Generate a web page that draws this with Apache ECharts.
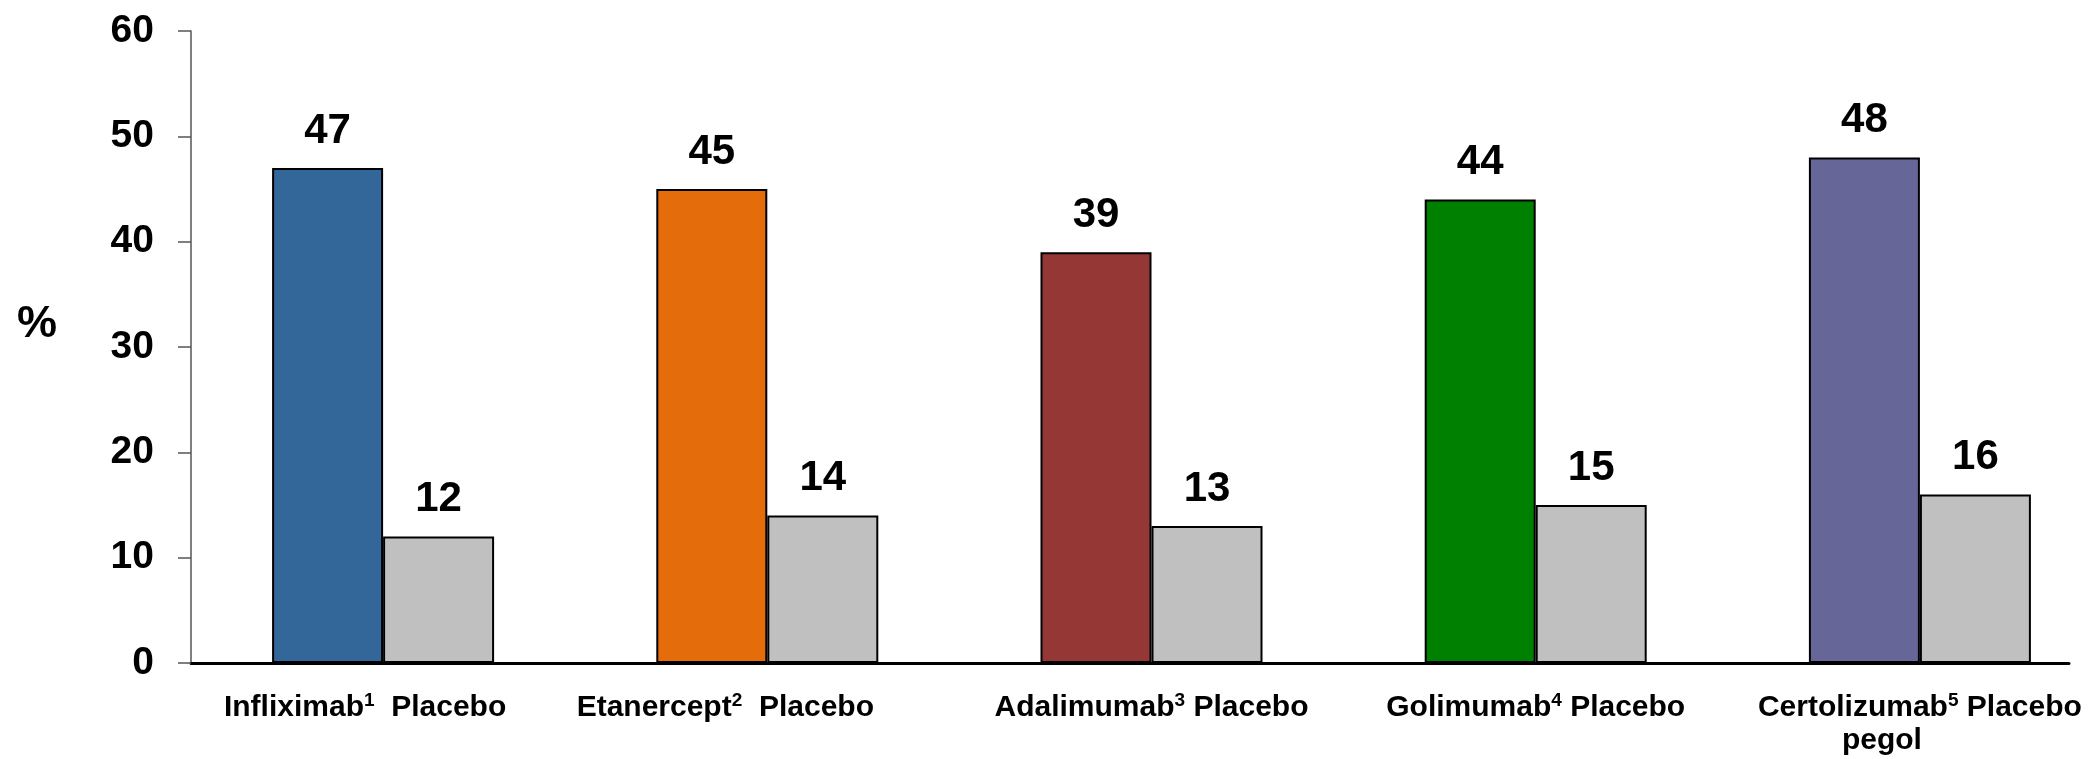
<!DOCTYPE html>
<html>
<head>
<meta charset="utf-8">
<script src="https://cdn.jsdelivr.net/npm/echarts@6/dist/echarts.min.js"></script>
<style>
  html, body { margin: 0; padding: 0; background: #fff; }
  #chart { width: 2090px; height: 759px; }
</style>
</head>
<body>
<div id="chart"></div>
<script>
// data
const drugs = ['Infliximab', 'Etanercept', 'Adalimumab', 'Golimumab', 'Certolizumab'];
const drugRefs = ['1', '2', '3', '4', '5'];
const drugSuffix = ['', '', '', '', 'pegol'];
const drugValues = [47, 45, 39, 44, 48];
const placeboValues = [12, 14, 13, 15, 16];
const drugColors = ['#336699', '#E46C0A', '#953735', '#008000', '#666699'];
const placeboColor = '#C0C0C0';
const yMin = 0, yMax = 60, yStep = 10;

// labels sit a bit left of the group centre for the first two groups
const labelGap = [36, 84, 0, 0, 0];

const FONT = '"Liberation Sans", Arial, sans-serif';

const chart = echarts.init(document.getElementById('chart'));

function catLabel(value, index) {
  const sep = index < 2 ? '  ' : ' ';
  let s = '{n|' + drugs[index] + '}{s|' + drugRefs[index] + '}{n|' + sep + 'Placebo}';
  if (labelGap[index]) s += '{g' + index + '| }';
  if (drugSuffix[index]) s += '\n{n|' + drugSuffix[index] + '}{gp| }';
  return s;
}

const option = {
  animation: false,
  backgroundColor: '#fff',
  title: {
    text: '%',
    left: 12,
    top: 297,
    textStyle: { fontFamily: FONT, fontSize: 45, fontWeight: 'bold', color: '#000' }
  },
  grid: [
    // the last group runs off the right edge in the original, so let it overflow
    { left: 191, right: -22, top: 31, bottom: 96, outerBoundsMode: 'none', containLabel: false },
    { left: 191, right: 21, top: 31, bottom: 96, outerBoundsMode: 'none', containLabel: false }
  ],
  xAxis: [
    {
      type: 'category',
      gridIndex: 0,
      data: drugs,
      axisLine: { show: false },
      axisTick: { show: false },
      axisLabel: {
        interval: 0,
        margin: 28,
        hideOverlap: false,
        formatter: catLabel,
        rich: {
          n: { fontFamily: FONT, fontSize: 30, fontWeight: 'bold', color: '#000', lineHeight: 33 },
          s: { fontFamily: FONT, fontSize: 19, fontWeight: 'bold', color: '#000', lineHeight: 19, verticalAlign: 'top' },
          g0: { width: 36, fontSize: 30, lineHeight: 33 },
          g1: { width: 84, fontSize: 30, lineHeight: 33 },
          gp: { width: 76, fontSize: 30, lineHeight: 33 }
        }
      }
    },
    {
      type: 'value',
      gridIndex: 1,
      min: 0,
      max: 1,
      axisLine: { show: true, lineStyle: { color: '#000', width: 3 } },
      axisTick: { show: false },
      axisLabel: { show: false },
      splitLine: { show: false }
    }
  ],
  yAxis: [
    {
      type: 'value',
      gridIndex: 0,
      min: yMin,
      max: yMax,
      interval: yStep,
      axisLine: { show: true, lineStyle: { color: '#555', width: 1.5 } },
      axisTick: { show: true, length: 13, lineStyle: { color: '#555', width: 1.5 } },
      axisLabel: {
        margin: 37,
        fontFamily: FONT,
        fontSize: 39,
        fontWeight: 'bold',
        color: '#000'
      },
      splitLine: { show: false }
    },
    { type: 'value', gridIndex: 1, show: false, min: 0, max: 1 }
  ],
  series: [
    {
      name: 'Drug',
      type: 'bar',
      xAxisIndex: 0,
      yAxisIndex: 0,
      barWidth: 111,
      barGap: '0%',
      data: drugValues.map((v, i) => ({ value: v, itemStyle: { color: drugColors[i] } })),
      itemStyle: { borderColor: '#000', borderWidth: 2 },
      label: {
        show: true,
        position: 'top',
        distance: 16,
        fontFamily: FONT,
        fontSize: 42,
        fontWeight: 'bold',
        color: '#000'
      }
    },
    {
      name: 'Placebo',
      type: 'bar',
      xAxisIndex: 0,
      yAxisIndex: 0,
      barWidth: 111,
      barGap: '0%',
      data: placeboValues,
      itemStyle: { color: placeboColor, borderColor: '#000', borderWidth: 2 },
      label: {
        show: true,
        position: 'top',
        distance: 16,
        fontFamily: FONT,
        fontSize: 42,
        fontWeight: 'bold',
        color: '#000'
      }
    }
  ]
};

chart.setOption(option);
</script>
</body>
</html>
